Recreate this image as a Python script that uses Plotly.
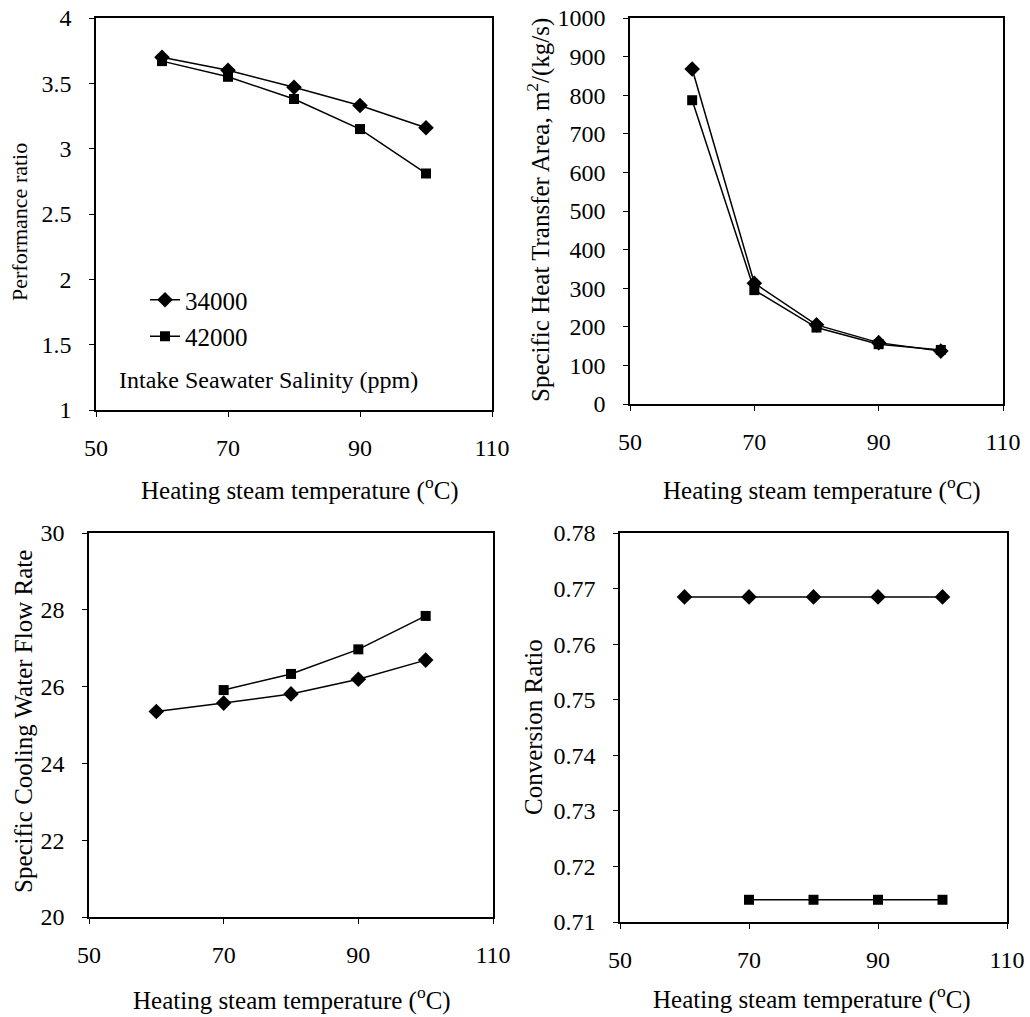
import plotly.graph_objects as go

W, H = 1030, 1017

temps = [60, 70, 80, 90, 100]
temps_b = [70, 80, 90, 100]
series_names = ["34000", "42000"]

pr_34000 = [3.70, 3.60, 3.47, 3.33, 3.16]
pr_42000 = [3.67, 3.55, 3.38, 3.15, 2.81]

area_34000 = [868, 313, 205, 159, 137]
area_42000 = [787, 295, 198, 155, 140]

cool_34000 = [25.35, 25.57, 25.81, 26.19, 26.69]
cool_42000 = [25.91, 26.33, 26.97, 27.84]

conv_34000 = [0.7685, 0.7685, 0.7685, 0.7685, 0.7685]
conv_42000 = [0.714, 0.714, 0.714, 0.714]

x_ticks = [50, 70, 90, 110]
FONT = "Liberation Serif, Times New Roman, serif"


def px(x):
    return x / W


def py(y):
    return 1 - y / H


# pixel boxes (left, right, top, bottom)
boxes = [(96, 492, 18, 410), (630, 1003, 18, 404), (89, 493, 533, 917), (620, 1007, 533, 922)]
y_ranges = [(1, 4), (0, 1000), (20, 30), (0.71, 0.78)]
y_dticks = [0.5, 100, 2, 0.01]
y_titles = ["Performance ratio", "Specific Heat Transfer Area, m<sup>2</sup>/(kg/s)",
            "Specific Cooling Water Flow Rate", "Conversion Ratio"]
y_title_pos = [(20, 222, 22), (538, 210, 25), (23, 722, 25), (533, 727, 25)]
x_title_pos = [(300, 488), (822, 488), (292, 998), (812, 997)]
data = [(pr_34000, pr_42000, temps), (area_34000, area_42000, temps),
        (cool_34000, cool_42000, temps_b), (conv_34000, conv_42000, temps_b)]

fig = go.Figure()
layout = dict(width=W, height=H, margin=dict(l=0, r=0, t=0, b=0, autoexpand=False),
              paper_bgcolor="white", plot_bgcolor="white",
              font=dict(family=FONT, size=24, color="black"))
annotations = []
for i, ((l, r, t, b), yr, dt, yt, (ytx, yty, yts), (xtx, xty), (d1, d2, tb)) in enumerate(
        zip(boxes, y_ranges, y_dticks, y_titles, y_title_pos, x_title_pos, data)):
    n = "" if i == 0 else str(i + 1)
    xa, ya = "x" + n, "y" + n
    common = dict(showline=True, linecolor="black", linewidth=1.5, mirror=True,
                  ticks="outside", ticklen=5, tickcolor="black", showgrid=False,
                  zeroline=False, automargin=False, ticklabeloverflow="allow",
                  tickfont=dict(family=FONT, size=24, color="black"))
    layout["xaxis" + n] = dict(domain=[px(l), px(r)], range=[50, 110], tickvals=x_ticks,
                               anchor=ya, ticklabelstandoff=10, **common)
    layout["yaxis" + n] = dict(domain=[py(b), py(t)], range=list(yr), dtick=dt,
                               anchor=xa, ticklabelstandoff=13, **common)
    fig.add_trace(go.Scatter(x=temps, y=d1, xaxis=xa, yaxis=ya, name=series_names[0],
                             mode="lines+markers", line=dict(color="black", width=1.5),
                             marker=dict(symbol="diamond", size=12, color="black"),
                             showlegend=(i == 0), legendgroup="a"))
    fig.add_trace(go.Scatter(x=tb, y=d2, xaxis=xa, yaxis=ya, name=series_names[1],
                             mode="lines+markers", line=dict(color="black", width=1.5),
                             marker=dict(symbol="square", size=10, color="black"),
                             showlegend=(i == 0), legendgroup="b"))
    annotations.append(dict(text="Heating steam temperature (<sup>o</sup>C)", xref="paper", yref="paper",
                            x=px(xtx), y=py(xty), showarrow=False,
                            xanchor="center", yanchor="middle", font=dict(size=25)))
    annotations.append(dict(text=yt, xref="paper", yref="paper", textangle=-90,
                            x=px(ytx), y=py(yty), showarrow=False,
                            xanchor="center", yanchor="middle", font=dict(size=yts)))

annotations.append(dict(text="Intake Seawater Salinity (ppm)", xref="paper", yref="paper",
                        x=px(117), y=py(380), showarrow=False, xanchor="left",
                        yanchor="middle", font=dict(size=24)))
layout["annotations"] = annotations
layout["legend"] = dict(x=px(145), y=py(277), xanchor="left", yanchor="top",
                        bgcolor="rgba(0,0,0,0)", font=dict(size=25), tracegroupgap=1)
fig.update_layout(**layout)
fig.write_html("out.html", config={"displayModeBar": False},
               post_script="document.body.style.margin='0';document.body.style.overflow='hidden';")
